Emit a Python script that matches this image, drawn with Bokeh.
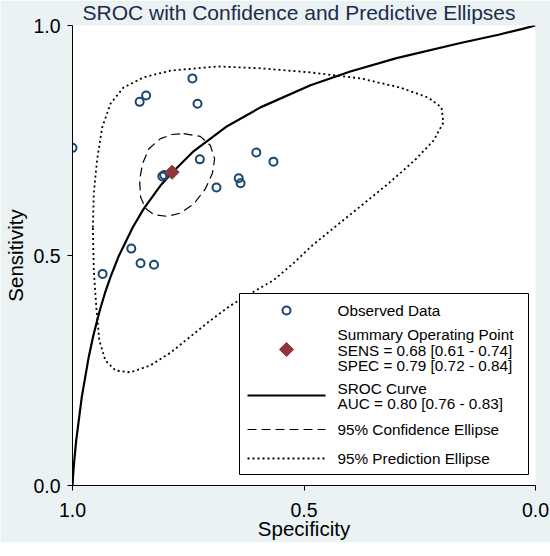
import math
from bokeh.plotting import figure
from bokeh.models import Range1d, FixedTicker, NumeralTickFormatter
from bokeh.core.properties import value
from bokeh.embed import file_html
from bokeh.resources import INLINE

# ---------------- data ----------------
obs_spec = [1.000, 0.855, 0.841, 0.741, 0.730, 0.725, 0.806, 0.802, 0.689,
            0.641, 0.637, 0.603, 0.566, 0.873, 0.853, 0.824, 0.935]
obs_sens = [0.734, 0.834, 0.848, 0.885, 0.830, 0.709, 0.672, 0.675, 0.648,
            0.668, 0.657, 0.724, 0.704, 0.515, 0.483, 0.480, 0.460]

sum_spec = [0.785]
sum_sens = [0.681]

sroc_spec = [1.000, 0.999, 0.997, 0.992, 0.980, 0.965, 0.955, 0.941, 0.930,
             0.918, 0.900, 0.870, 0.846, 0.810, 0.784, 0.738, 0.666, 0.594,
             0.486, 0.400, 0.300, 0.162, 0.080, 0.030, 0.000]
sroc_sens = [0.000, 0.018, 0.045, 0.098, 0.192, 0.279, 0.326, 0.381, 0.418,
             0.453, 0.499, 0.561, 0.602, 0.652, 0.681, 0.727, 0.781, 0.822,
             0.870, 0.900, 0.929, 0.962, 0.980, 0.992, 1.000]

conf_spec = [0.760, 0.724, 0.702, 0.693, 0.698, 0.713, 0.738, 0.767, 0.795,
             0.824, 0.842, 0.853, 0.855, 0.849, 0.835, 0.810, 0.785, 0.760]
conf_sens = [0.765, 0.759, 0.739, 0.710, 0.678, 0.645, 0.612, 0.592, 0.585,
             0.589, 0.602, 0.627, 0.663, 0.699, 0.732, 0.754, 0.763, 0.765]

pred_spec = [0.956, 0.954, 0.947, 0.936, 0.918, 0.890, 0.847, 0.788, 0.687,
             0.594, 0.486, 0.378, 0.292, 0.231, 0.203, 0.199, 0.220, 0.261,
             0.317, 0.378, 0.432, 0.482, 0.523, 0.566, 0.616, 0.659, 0.702,
             0.745, 0.788, 0.832, 0.875, 0.907, 0.929, 0.942, 0.948, 0.954, 0.956]
pred_sens = [0.561, 0.635, 0.707, 0.778, 0.830, 0.865, 0.887, 0.902, 0.911,
             0.907, 0.898, 0.885, 0.865, 0.843, 0.822, 0.789, 0.750, 0.707,
             0.657, 0.607, 0.563, 0.522, 0.483, 0.446, 0.417, 0.391, 0.359,
             0.324, 0.289, 0.261, 0.246, 0.250, 0.272, 0.315, 0.380, 0.467, 0.561]

x_ticks = [0.0, 0.5, 1.0]
y_ticks = [0.0, 0.5, 1.0]

title_text = "SROC with Confidence and Predictive Ellipses"
x_title = "Specificity"
y_title = "Sensitivity"
legend_lines = [
    ["Observed Data"],
    ["Summary Operating Point", "SENS = 0.68 [0.61 - 0.74]", "SPEC = 0.79 [0.72 - 0.84]"],
    ["SROC Curve", "AUC = 0.80 [0.76 - 0.83]"],
    ["95% Confidence Ellipse"],
    ["95% Prediction Ellipse"],
]

# ---------------- styling ----------------
BG = "#EAF2F3"
NAVY = "#1A476F"
MAROON = "#90353B"
FONT = "Liberation Sans"

# frame in page pixels
FX0, FX1, FY0, FY1 = 72.0, 535.0, 25.0, 485.0


def dx(px):
    return 1.0 - (px - FX0) / (FX1 - FX0)


def dy(py):
    return (FY1 - py) / (FY1 - FY0)


p = figure(frame_width=int(FX1 - FX0), frame_height=int(FY1 - FY0),
           output_backend="svg", toolbar_location=None,
           x_range=Range1d(1.0, 0.0), y_range=Range1d(0.0, 1.0),
           min_border_left=int(FX0), min_border_right=15,
           min_border_top=int(FY0), min_border_bottom=55)
p.background_fill_color = "white"
p.border_fill_color = BG
p.outline_line_color = None
p.xgrid.visible = False
p.ygrid.visible = False

p.title.text = title_text
p.title.align = "left"
p.title.offset = 10
p.title.vertical_align = "top"
p.title.standoff = 0
p.title.text_font = FONT
p.title.text_font_size = "21px"
p.title.text_font_style = "normal"
p.title.text_color = "#1C2B4E"

for ax in (p.xaxis[0], p.yaxis[0]):
    ax.axis_line_color = "black"
    ax.axis_line_width = 1
    ax.major_tick_line_color = "black"
    ax.major_tick_out = 5
    ax.major_tick_in = 0
    ax.minor_tick_line_color = None
    ax.major_label_text_font = FONT
    ax.major_label_text_font_size = "19.5px"
    ax.major_label_text_color = "black"
    ax.axis_label_text_font = FONT
    ax.axis_label_text_font_size = "20.5px"
    ax.axis_label_text_font_style = "normal"
    ax.axis_label_text_color = "black"
    ax.formatter = NumeralTickFormatter(format="0.0")

p.xaxis[0].ticker = FixedTicker(ticks=x_ticks)
p.yaxis[0].ticker = FixedTicker(ticks=y_ticks)
p.xaxis[0].axis_label = x_title
p.yaxis[0].axis_label = y_title
p.xaxis[0].major_label_standoff = 12
p.xaxis[0].axis_label_standoff = -3
p.yaxis[0].major_label_standoff = 7
p.yaxis[0].axis_label_standoff = 3

# ellipses
p.line(pred_spec, pred_sens, line_color="black", line_width=1.8, line_dash="2 3")
p.line(conf_spec, conf_sens, line_color="black", line_width=1.2, line_dash="9 5")
# SROC
p.line(sroc_spec, sroc_sens, line_color="black", line_width=2.2)
# observed
p.scatter(obs_spec, obs_sens, marker="circle", size=8, fill_color=None,
          line_color=NAVY, line_width=2)
# summary point
p.scatter(sum_spec, sum_sens, marker="square", size=10, angle=math.pi / 4,
          fill_color=MAROON, line_color=MAROON)

# legend box
p.quad(left=[dx(239)], right=[dx(528)], top=[dy(293)], bottom=[dy(474)],
       fill_color="white", line_color="black", line_width=1)
# legend samples
p.scatter([dx(286)], [dy(310)], marker="circle", size=8, fill_color=None,
          line_color=NAVY, line_width=2)
p.scatter([dx(286)], [dy(349)], marker="square", size=10, angle=math.pi / 4,
          fill_color=MAROON, line_color=MAROON)
p.line([dx(247), dx(325)], [dy(395), dy(395)], line_color="black", line_width=2.2)
p.line([dx(247), dx(325)], [dy(429), dy(429)], line_color="black", line_width=1.2,
       line_dash="9 5")
p.line([dx(247), dx(325)], [dy(458), dy(458)], line_color="black", line_width=1.8,
       line_dash="2 3")

legend_y = [[310], [334, 349.5, 364.5], [388, 403], [429], [458]]
lx, ly, lt = [], [], []
for lines, ys in zip(legend_lines, legend_y):
    for t, yy in zip(lines, ys):
        lx.append(dx(337))
        ly.append(dy(yy))
        lt.append(t)
p.text(lx, ly, text=lt, text_align="left", text_baseline="middle",
       text_font=value(FONT), text_font_size="15.3px", text_color="black")

open("out.html", "w").write(file_html(p, INLINE))
